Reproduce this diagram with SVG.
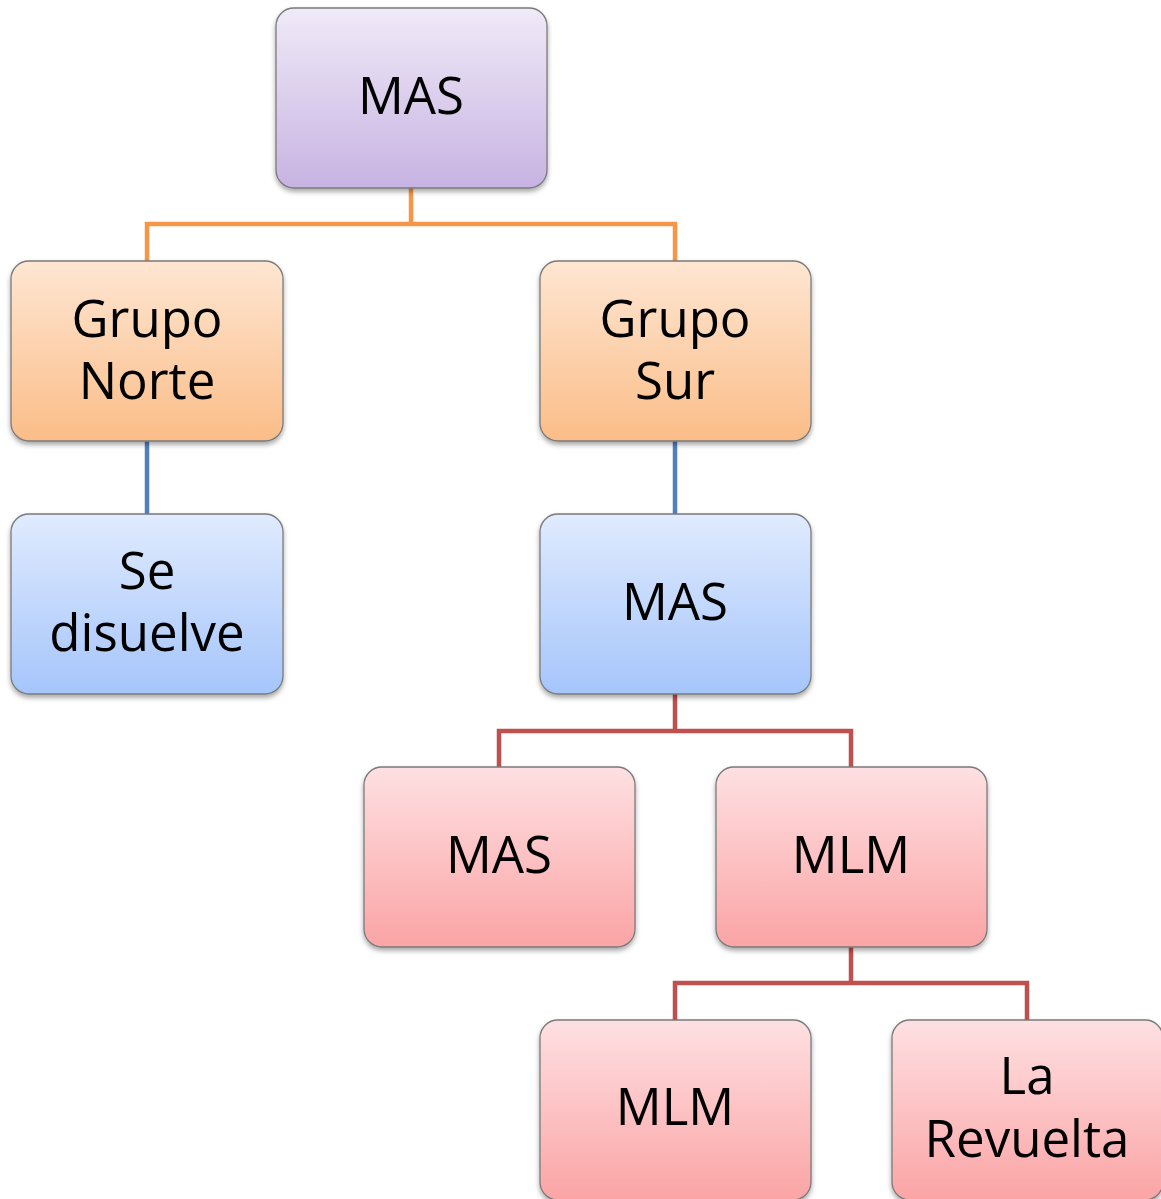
<svg xmlns="http://www.w3.org/2000/svg" width="1161" height="1199" viewBox="0 0 1161 1199">
<defs>
<linearGradient id="gP" x1="0" y1="0" x2="0" y2="1"><stop offset="0" stop-color="#f0eaf8"/><stop offset="1" stop-color="#c7b3e2"/></linearGradient>
<linearGradient id="gO" x1="0" y1="0" x2="0" y2="1"><stop offset="0" stop-color="#fee6d2"/><stop offset="1" stop-color="#fbbd88"/></linearGradient>
<linearGradient id="gB" x1="0" y1="0" x2="0" y2="1"><stop offset="0" stop-color="#e0ebfe"/><stop offset="1" stop-color="#a5c5fb"/></linearGradient>
<linearGradient id="gR" x1="0" y1="0" x2="0" y2="1"><stop offset="0" stop-color="#fee0e2"/><stop offset="1" stop-color="#fba4a5"/></linearGradient>
<filter id="sh" x="-10%" y="-10%" width="120%" height="130%"><feDropShadow dx="0" dy="3" stdDeviation="2.5" flood-color="#000" flood-opacity="0.35"/></filter>
</defs>
<style>
.box{stroke:#7a7a7a;stroke-width:1.3;filter:url(#sh)}
.t{font-family:"Open Sans","Noto Sans",sans-serif;font-size:51px;fill:#000;text-anchor:middle}
.c{fill:none;stroke-width:4.5;stroke-linejoin:miter}
</style>
<rect width="1161" height="1199" fill="#fff"/>
<g id="connectors">
<path class="c" stroke="#f79646" d="M411,188 V224 H147 V261 M411,224 H675 V261"/>
<path class="c" stroke="#4f81bd" d="M147,441 V514 M675,441 V514"/>
<path class="c" stroke="#c0504d" d="M675,694 V731 H499 V767 M675,731 H851 V767"/>
<path class="c" stroke="#c0504d" d="M851,947 V983 H675 V1020 M851,983 H1027 V1020"/>
</g>
<g id="n1"><rect class="box" x="276" y="8" width="271" height="180" rx="18" fill="url(#gP)"/><text class="t" x="411" y="114">MAS</text></g>
<g id="n2"><rect class="box" x="11" y="261" width="272" height="180" rx="18" fill="url(#gO)"/><text class="t" x="147" y="337">Grupo</text><text class="t" x="147" y="399">Norte</text></g>
<g id="n3"><rect class="box" x="540" y="261" width="271" height="180" rx="18" fill="url(#gO)"/><text class="t" x="675" y="337">Grupo</text><text class="t" x="675" y="399">Sur</text></g>
<g id="n4"><rect class="box" x="11" y="514" width="272" height="180" rx="18" fill="url(#gB)"/><text class="t" x="147" y="589">Se</text><text class="t" x="147" y="651">disuelve</text></g>
<g id="n5"><rect class="box" x="540" y="514" width="271" height="180" rx="18" fill="url(#gB)"/><text class="t" x="675" y="620">MAS</text></g>
<g id="n6"><rect class="box" x="364" y="767" width="271" height="180" rx="18" fill="url(#gR)"/><text class="t" x="499" y="873">MAS</text></g>
<g id="n7"><rect class="box" x="716" y="767" width="271" height="180" rx="18" fill="url(#gR)"/><text class="t" x="851" y="873">MLM</text></g>
<g id="n8"><rect class="box" x="540" y="1020" width="271" height="180" rx="18" fill="url(#gR)"/><text class="t" x="675" y="1125">MLM</text></g>
<g id="n9"><rect class="box" x="892" y="1020" width="271" height="180" rx="18" fill="url(#gR)"/><text class="t" x="1027" y="1094">La</text><text class="t" x="1027" y="1157">Revuelta</text></g>
</svg>
